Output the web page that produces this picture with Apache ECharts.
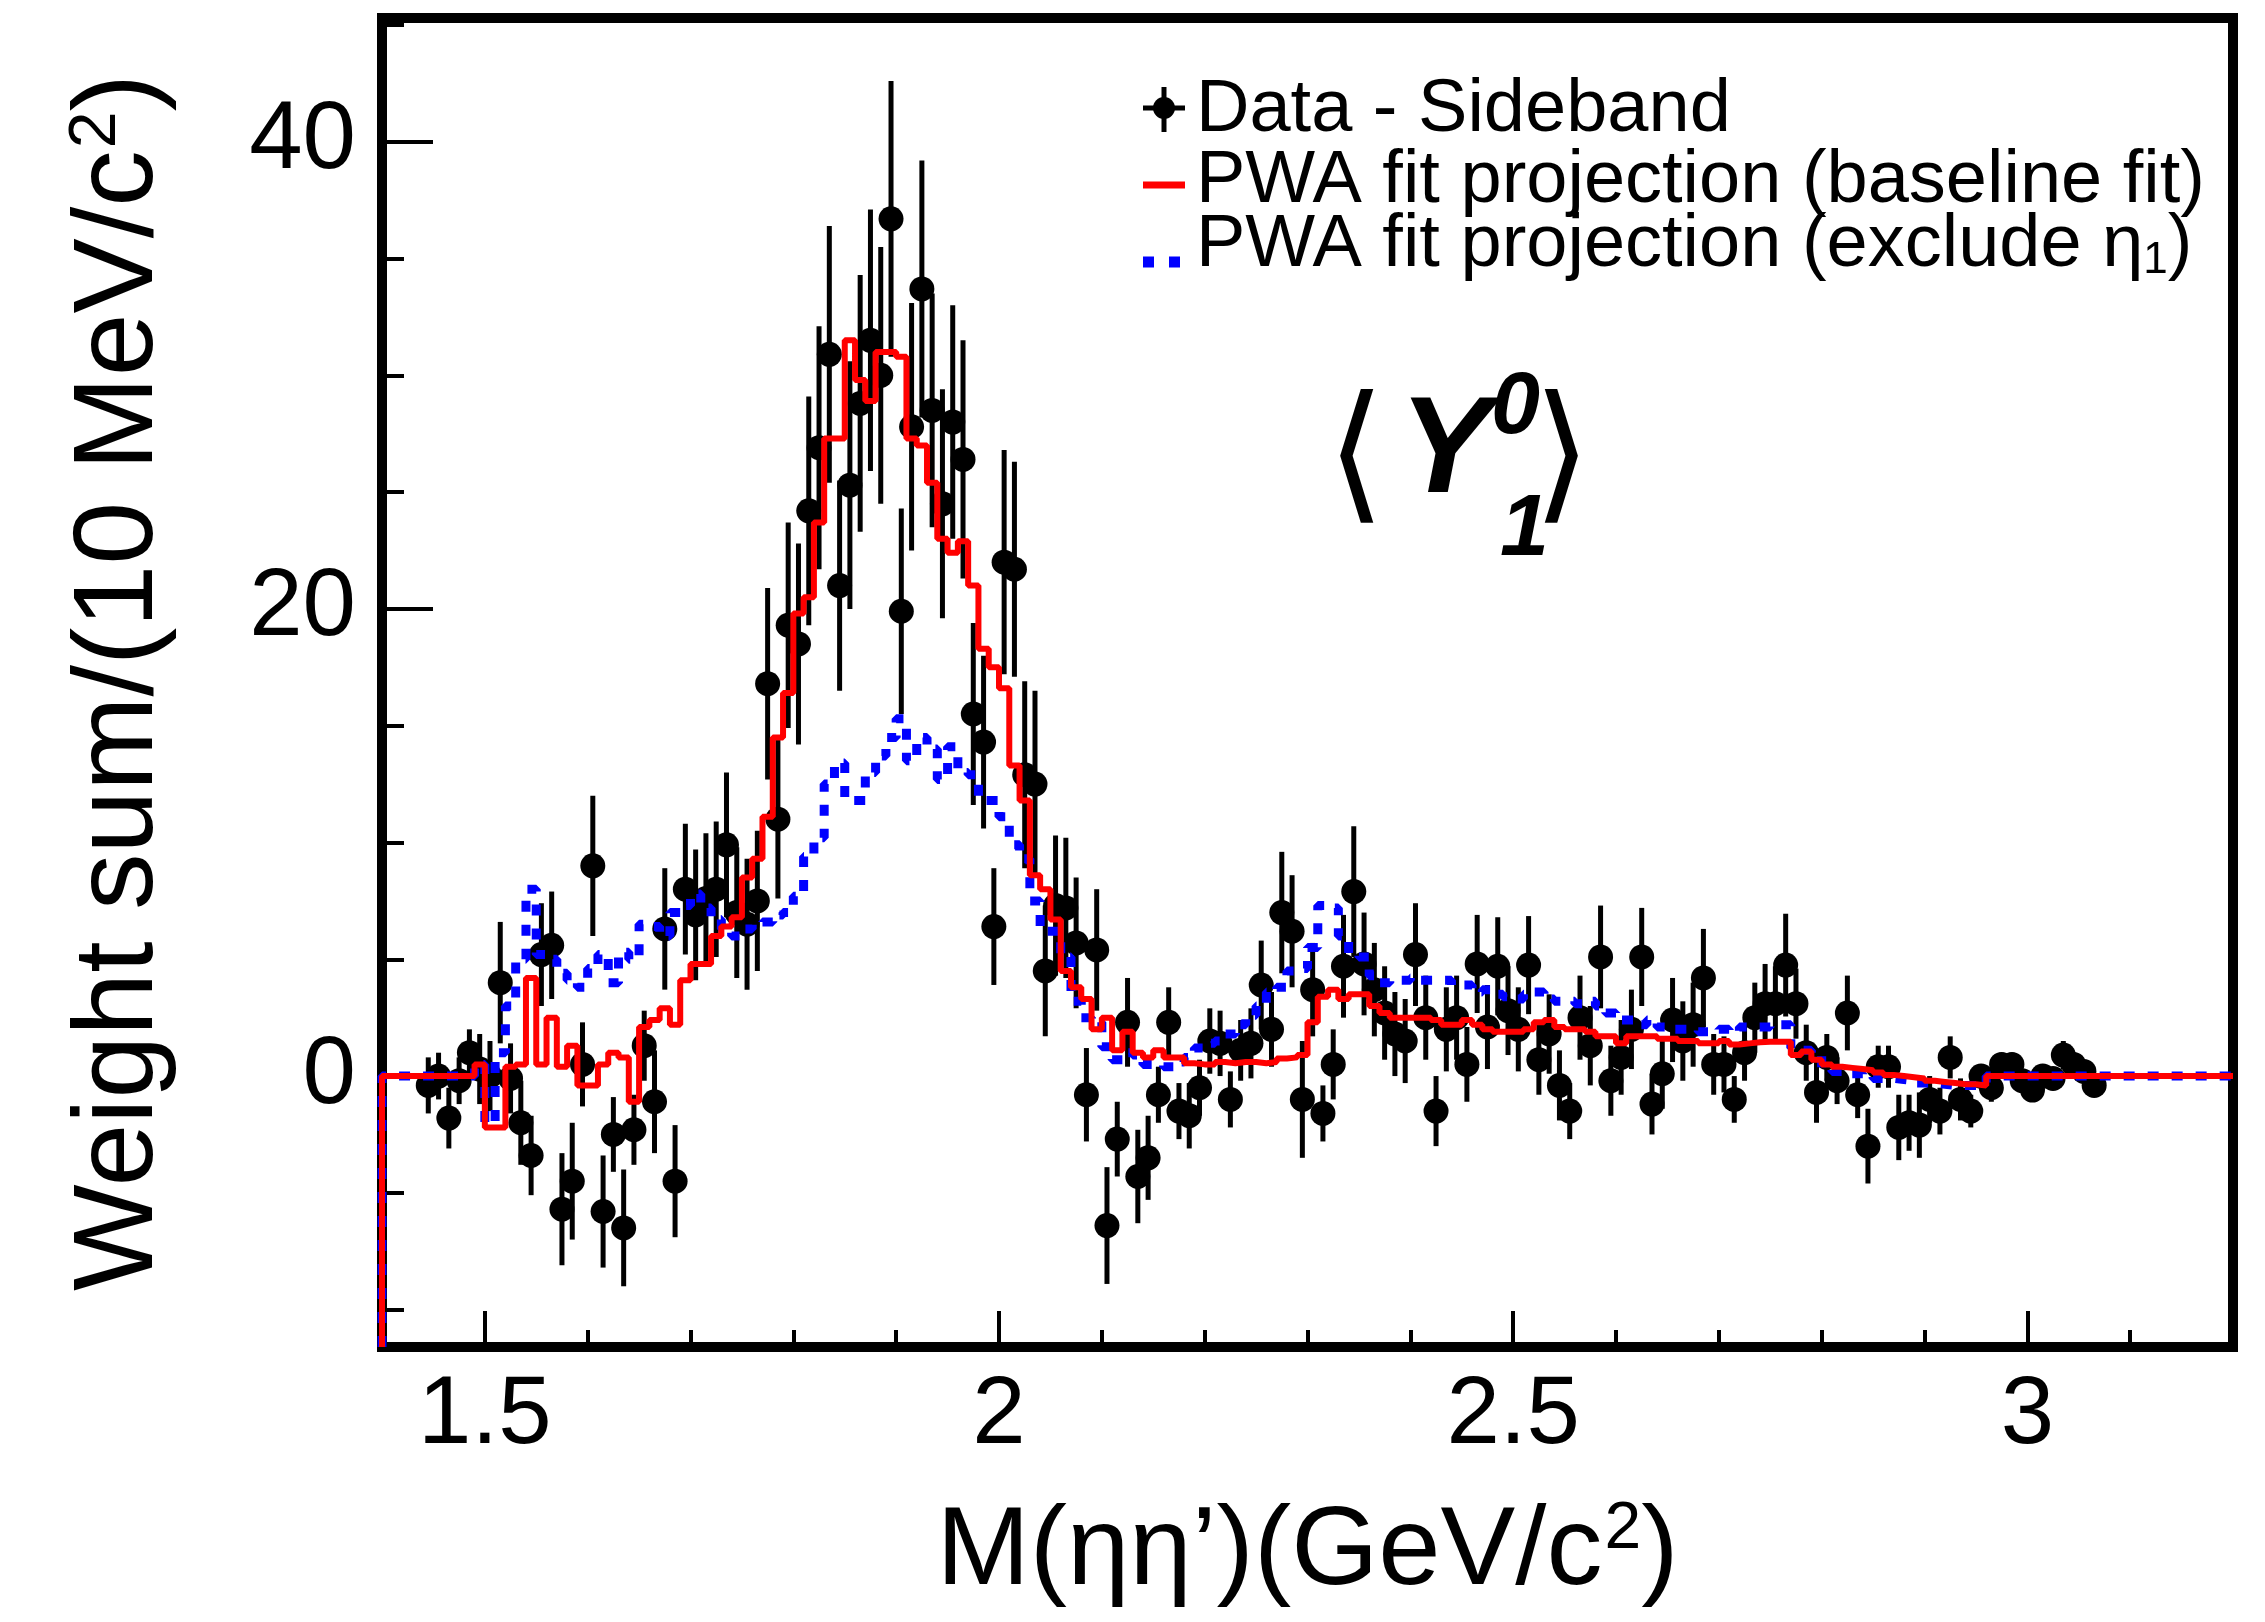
<!DOCTYPE html>
<html><head><meta charset="utf-8">
<script src="https://cdn.jsdelivr.net/npm/echarts@6.0.0/dist/echarts.min.js"></script>
<style>html,body{margin:0;padding:0;background:#fff;}#chart{width:2265px;height:1622px;}</style>
</head><body><div id="chart"></div>
<script>
// ---- axes ----
const xMin = 1.4, xMax = 3.2;
const yMin = -11.6, yMax = 45.3;
const xMajorTicks = [1.5, 2, 2.5, 3];
const xMinorTicks = [1.6, 1.7, 1.8, 1.9, 2.1, 2.2, 2.3, 2.4, 2.6, 2.7, 2.8, 2.9, 3.1];
const yMajorTicks = [0, 20, 40];
const yMinorTicks = [-10, -5, 5, 10, 15, 25, 30, 35, 45];

// ---- data (Data - Sideband), 10 MeV bins ----
const binWidth = 0.01;
const dataFirstCenter = 1.445;
const dataValues = [
 -0.4, 0.0, -1.8, -0.2, 1.0, 0.3, 0.0, 4.0, -0.1, -2.0,
 -3.4, 5.2, 5.6, -5.7, -4.5, 0.5, 9.0, -5.8, -2.5, -6.5,
 -2.3, 1.3, -1.1, 6.3, -4.5, 8.0, 6.9, 7.6, 8.0, 9.9,
 7.0, 6.5, 7.5, 16.8, 11.0, 19.3, 18.5, 24.2, 26.9, 30.9,
 21.0, 25.3, 28.8, 31.5, 30.0, 36.7, 19.9, 27.8, 33.7, 28.5,
 24.5, 28.0, 26.4, 15.5, 14.3, 6.4, 22.0, 21.7, 12.9, 12.5,
 4.5, 7.3, 7.2, 5.7, -0.8, 5.4, -6.4, -2.7, 2.3, -4.3,
 -3.5, -0.8, 2.3, -1.5, -1.7, -0.5, 1.5, 1.4, -1.0, 1.1,
 1.4, 3.9, 2.0, 7.0, 6.2, -1.0, 3.7, -1.6, 0.5, 4.7,
 7.9, 4.8, 3.7, 2.7, 1.8, 1.5, 5.2, 2.5, -1.5, 2.0,
 2.5, 0.5, 4.8, 2.1, 4.7, 2.8, 2.0, 4.75, 0.7, 1.8,
 -0.4, -1.5, 2.5, 1.3, 5.1, -0.2, 0.8, 2.0, 5.1, -1.2,
 0.1, 2.4, 1.5, 2.2, 4.2, 0.5, 0.5, -1.0, 1.0, 2.5,
 3.1, 3.1, 4.75, 3.1, 1.0, -0.7, 0.8, -0.2, 2.7, -0.8,
 -3.0, 0.4, 0.4, -2.2, -2.0, -2.1, -1.0, -1.5, 0.8, -1.0,
 -1.5, 0.0, -0.5, 0.5, 0.5, -0.2, -0.6, 0.0, -0.1, 0.9,
 0.5, 0.2, -0.4
];
const dataErrors = [
 1.2, 1.0, 1.3, 1.0, 1.0, 1.5, 1.5, 2.6, 1.5, 1.8,
 1.7, 2.2, 2.3, 2.4, 2.5, 1.8, 3.0, 2.4, 1.6, 2.5,
 1.5, 1.5, 2.2, 2.6, 2.4, 2.8, 2.8, 2.8, 2.9, 3.1,
 2.8, 2.8, 3.0, 4.1, 3.4, 4.4, 4.3, 4.9, 5.2, 5.5,
 4.5, 5.3, 5.5, 5.6, 5.5, 5.9, 4.4, 5.3, 5.5, 5.0,
 4.9, 5.0, 5.1, 3.9, 3.7, 2.5, 4.8, 4.6, 4.0, 4.0,
 2.8, 3.0, 3.0, 2.8, 2.0, 2.6, 2.5, 1.6, 1.9, 2.0,
 1.8, 1.2, 1.5, 1.2, 1.4, 1.2, 1.4, 1.4, 1.2, 1.3,
 1.5, 1.9, 1.6, 2.6, 2.4, 2.5, 2.0, 1.2, 1.5, 2.2,
 2.8, 2.2, 2.0, 2.0, 1.8, 1.8, 2.2, 1.8, 1.5, 1.8,
 1.8, 1.6, 2.1, 1.8, 2.1, 1.9, 1.8, 2.1, 1.5, 1.7,
 1.5, 1.2, 1.8, 1.7, 2.2, 1.5, 1.6, 1.7, 2.1, 1.3,
 1.5, 1.8, 1.7, 1.8, 2.1, 1.3, 1.2, 1.0, 1.2, 1.5,
 1.7, 1.6, 2.2, 1.5, 1.2, 1.3, 1.0, 1.0, 1.6, 1.0,
 1.6, 0.9, 0.9, 1.4, 1.2, 1.4, 1.0, 1.0, 0.9, 0.9,
 0.7, 0.5, 0.6, 0.5, 0.5, 0.5, 0.5, 0.5, 0.4, 0.6,
 0.5, 0.4, 0.3
];

// ---- PWA fit projections (histograms, bins from 1.40) ----
const histFirstEdge = 1.40;
const fitBaseline = [
 0, 0, 0, 0, 0, 0, 0, 0, 0, 0.5,
 -2.2, -2.2, 0.4, 0.5, 4.2, 0.5, 2.5, 0.4, 1.3, -0.4,
 -0.4, 0.5, 1.0, 0.8, -1.1, 2.1, 2.4, 2.9, 2.2, 4.1,
 4.8, 4.8, 6.0, 6.4, 6.8, 8.5, 9.3, 11.1, 14.5, 16.4,
 19.8, 20.5, 23.7, 27.3, 27.3, 31.5, 29.8, 28.9, 31.0, 31.0,
 30.8, 27.3, 27.0, 25.4, 23.0, 22.4, 22.9, 21.0, 18.3, 17.5,
 16.6, 13.3, 11.8, 8.6, 8.0, 6.7, 4.5, 3.8, 3.3, 2.0,
 2.5, 1.1, 1.9, 1.0, 0.8, 1.1, 0.8, 0.8, 0.55, 0.5,
 0.5, 0.6, 0.55, 0.6, 0.6, 0.55, 0.6, 0.75, 0.8, 0.9,
 2.3, 3.4, 3.7, 3.3, 3.5, 3.5, 3.0, 2.7, 2.5, 2.5,
 2.5, 2.5, 2.4, 2.2, 2.2, 2.4, 2.2, 2.0, 1.9, 1.9,
 1.9, 2.0, 2.3, 2.4, 2.1, 2.0, 2.0, 1.9, 1.7, 1.7,
 1.4, 1.7, 1.7, 1.7, 1.6, 1.6, 1.5, 1.5, 1.4, 1.4,
 1.5, 1.35, 1.4, 1.45, 1.47, 1.47, 1.47, 0.9, 1.05, 0.7,
 0.5, 0.4, 0.35, 0.3, 0.25, 0.15, 0.05, 0, -0.05, -0.1,
 -0.2, -0.25, -0.3, -0.35, -0.35, -0.4, 0, 0, 0, 0,
 0, 0, 0, 0, 0, 0, 0, 0, 0, 0,
 0, 0, 0, 0, 0, 0, 0, 0, 0, 0
];
const fitExcludeEta1 = [
 0, 0, 0, 0, 0, 0, 0, 0, 0, 0.5,
 -2.0, 1.0, 3.0, 5.0, 8.0, 5.2, 5.0, 4.4, 4.1, 3.8,
 4.6, 5.2, 4.0, 5.3, 5.0, 6.5, 6.4, 6.0, 7.0, 7.3,
 7.8, 7.2, 6.7, 6.3, 6.0, 6.3, 6.5, 6.6, 6.9, 7.0,
 7.7, 9.4, 10.2, 12.5, 13.4, 11.8, 11.8, 13.0, 13.7, 14.5,
 15.3, 13.5, 14.5, 14.0, 12.7, 14.1, 13.0, 12.9, 11.8, 11.8,
 11.1, 9.9, 9.3, 7.5, 6.2, 6.2, 5.1, 3.2, 2.5, 2.3,
 1.25, 0.7, 1.0, 0.9, 0.5, 0.5, 0.4, 0.6, 0.8, 1.2,
 1.4, 1.5, 1.8, 2.2, 2.6, 3.0, 3.6, 3.8, 4.5, 4.6,
 5.5, 7.3, 7.2, 6.0, 5.2, 5.1, 4.3, 4.0, 4.1, 4.1,
 4.2, 4.1, 4.1, 4.1, 3.9, 3.9, 3.6, 3.7, 3.5, 3.4,
 3.3, 3.5, 3.6, 3.3, 3.2, 3.2, 3.1, 3.2, 3.0, 2.7,
 2.4, 2.4, 2.2, 2.4, 2.1, 2.0, 2.0, 2.0, 1.9, 1.9,
 2.0, 1.9, 2.1, 2.1, 2.1, 2.2, 2.2, 1.2, 1.1, 1.0,
 0.3, 0.2, 0.1, 0.1, 0, -0.1, -0.1, -0.15, -0.2, -0.3,
 -0.3, -0.35, -0.4, -0.4, -0.4, -0.4, 0, 0, 0, 0,
 0, 0, 0, 0, 0, 0, 0, 0, 0, 0,
 0, 0, 0, 0, 0, 0, 0, 0, 0, 0
];

// ---- text ----
const legendLabels = ['Data - Sideband', 'PWA fit projection (baseline fit)', 'PWA fit projection (exclude \u03b7{sub|1})'];
const xTitle = 'M(\u03b7\u03b7\u2019)(GeV/c{sup|2})';
const yTitle = 'Weight sum/(10 MeV/c{sup|2})';

// ---- build ----
const FONT = '"Liberation Sans", Arial, Helvetica, sans-serif';
const points = dataValues.map((v, i) => [+(dataFirstCenter + i * binWidth).toFixed(3), v, dataErrors[i]]);
function histPoints(vals) {
  const pts = [[histFirstEdge, yMin]];
  vals.forEach((v, i) => {
    const lo = +(histFirstEdge + i * binWidth).toFixed(3);
    const hi = +(histFirstEdge + (i + 1) * binWidth).toFixed(3);
    pts.push([lo, v], [hi, v]);
  });
  return pts;
}

const chart = echarts.init(document.getElementById('chart'), null, {renderer: 'canvas'});
const supRich = {sup: {fontSize: 66, fontFamily: FONT, color: '#000', verticalAlign: 'top', padding: [0, 0, 0, 2]}};
const noLine = {show: false, onZero: false};

const option = {
  animation: false,
  backgroundColor: '#fff',
  grid: {left: 382, right: 32, top: 18, bottom: 275, show: true, borderColor: '#000', borderWidth: 10,
         backgroundColor: 'transparent', outerBoundsMode: 'none', containLabel: false},
  xAxis: [
    {type: 'value', position: 'bottom', min: xMin, max: xMax, axisLine: noLine, splitLine: {show: false},
     axisTick: {show: true, inside: true, length: 36, customValues: xMajorTicks, lineStyle: {color: '#000', width: 4}},
     axisLabel: {show: true, customValues: xMajorTicks, margin: 22, fontSize: 96, fontFamily: FONT, color: '#000',
                 formatter: v => String(v)},
     name: xTitle, nameLocation: 'middle', nameGap: 150, nameMoveOverlap: false,
     nameTextStyle: {fontSize: 112, fontFamily: FONT, color: '#000', rich: supRich}},
    {type: 'value', position: 'bottom', min: xMin, max: xMax, axisLine: noLine, splitLine: {show: false},
     axisTick: {show: true, inside: true, length: 17, customValues: xMinorTicks, lineStyle: {color: '#000', width: 4}},
     axisLabel: {show: false}}
  ],
  yAxis: [
    {type: 'value', position: 'left', min: yMin, max: yMax, axisLine: noLine, splitLine: {show: false},
     axisTick: {show: true, inside: true, length: 51, customValues: yMajorTicks, lineStyle: {color: '#000', width: 4}},
     axisLabel: {show: true, customValues: yMajorTicks, margin: 26, fontSize: 96, fontFamily: FONT, color: '#000'},
     name: yTitle, nameLocation: 'middle', nameGap: 205, nameRotate: 90, nameMoveOverlap: false,
     nameTextStyle: {fontSize: 113, fontFamily: FONT, color: '#000', rich: supRich}},
    {type: 'value', position: 'left', min: yMin, max: yMax, axisLine: noLine, splitLine: {show: false},
     axisTick: {show: true, inside: true, length: 22, customValues: yMinorTicks, lineStyle: {color: '#000', width: 4}},
     axisLabel: {show: false}}
  ],
  series: [
    {type: 'custom', name: 'errors', xAxisIndex: 0, yAxisIndex: 0, z: 2, data: points,
     encode: {x: 0, y: 1},
     renderItem: (params, api) => {
       const x = api.value(0), y = api.value(1), e = api.value(2);
       const p1 = api.coord([x, y - e]), p2 = api.coord([x, y + e]);
       return {type: 'line', shape: {x1: p1[0], y1: p1[1], x2: p2[0], y2: p2[1]},
               style: {stroke: '#000', lineWidth: 5}};
     }},
    {type: 'scatter', name: 'Data - Sideband', xAxisIndex: 0, yAxisIndex: 0, z: 3,
     data: points.map(p => [p[0], p[1]]), symbol: 'circle', symbolSize: 25,
     itemStyle: {color: '#000', opacity: 1}},
    {type: 'line', name: 'PWA fit projection (exclude eta1)', xAxisIndex: 0, yAxisIndex: 0, z: 4,
     data: histPoints(fitExcludeEta1), showSymbol: false, symbol: 'none', clip: false,
     lineStyle: {color: '#0000ff', width: 9, type: [11, 13], cap: 'butt', opacity: 1}},
    {type: 'line', name: 'PWA fit projection (baseline fit)', xAxisIndex: 0, yAxisIndex: 0, z: 5,
     data: histPoints(fitBaseline), showSymbol: false, symbol: 'none', clip: false,
     lineStyle: {color: '#ff0000', width: 6, opacity: 1}}
  ],
  graphic: [
    // legend symbols
    {type: 'line', shape: {x1: 1143, y1: 108, x2: 1185, y2: 108}, style: {stroke: '#000', lineWidth: 5}},
    {type: 'line', shape: {x1: 1164, y1: 87, x2: 1164, y2: 132}, style: {stroke: '#000', lineWidth: 5}},
    {type: 'circle', shape: {cx: 1164, cy: 108, r: 11}, style: {fill: '#000'}},
    {type: 'line', shape: {x1: 1143, y1: 185, x2: 1185, y2: 185}, style: {stroke: '#ff0000', lineWidth: 7}},
    {type: 'line', shape: {x1: 1143, y1: 262, x2: 1184, y2: 262}, style: {stroke: '#0000ff', lineWidth: 11, lineDash: [11, 15]}},
    // legend text
    {type: 'text', x: 1196, y: 111, style: {text: legendLabels[0], fontSize: 74, fontFamily: FONT, fill: '#000', align: 'left', verticalAlign: 'middle'}},
    {type: 'text', x: 1196, y: 182, style: {text: legendLabels[1], fontSize: 74, fontFamily: FONT, fill: '#000', align: 'left', verticalAlign: 'middle'}},
    {type: 'text', x: 1196, y: 246, style: {text: legendLabels[2], fontSize: 74, fontFamily: FONT, fill: '#000', align: 'left', verticalAlign: 'middle',
      rich: {sub: {fontSize: 44, fontFamily: FONT, fill: '#000', verticalAlign: 'bottom'}}}},
    // <Y_1^0> annotation
    {type: 'text', x: 1356, y: 464, style: {text: '\u27e8', fontSize: 150, fontFamily: '"DejaVu Sans"', fill: '#000', align: 'center', verticalAlign: 'middle'}},
    {type: 'text', x: 1399, y: 454, style: {text: 'Y', fontSize: 138, fontFamily: FONT, fontWeight: 'bold', fontStyle: 'italic', fill: '#000', align: 'left', verticalAlign: 'middle'}},
    {type: 'text', x: 1491, y: 409, style: {text: '0', fontSize: 88, fontFamily: FONT, fontWeight: 'bold', fontStyle: 'italic', fill: '#000', align: 'left', verticalAlign: 'middle'}},
    {type: 'text', x: 1500, y: 531, style: {text: '1', fontSize: 88, fontFamily: FONT, fontWeight: 'bold', fontStyle: 'italic', fill: '#000', align: 'left', verticalAlign: 'middle'}},
    {type: 'text', x: 1562, y: 464, style: {text: '\u27e9', fontSize: 150, fontFamily: '"DejaVu Sans"', fill: '#000', align: 'center', verticalAlign: 'middle'}}
  ]
};
chart.setOption(option);
</script>
</body></html>
